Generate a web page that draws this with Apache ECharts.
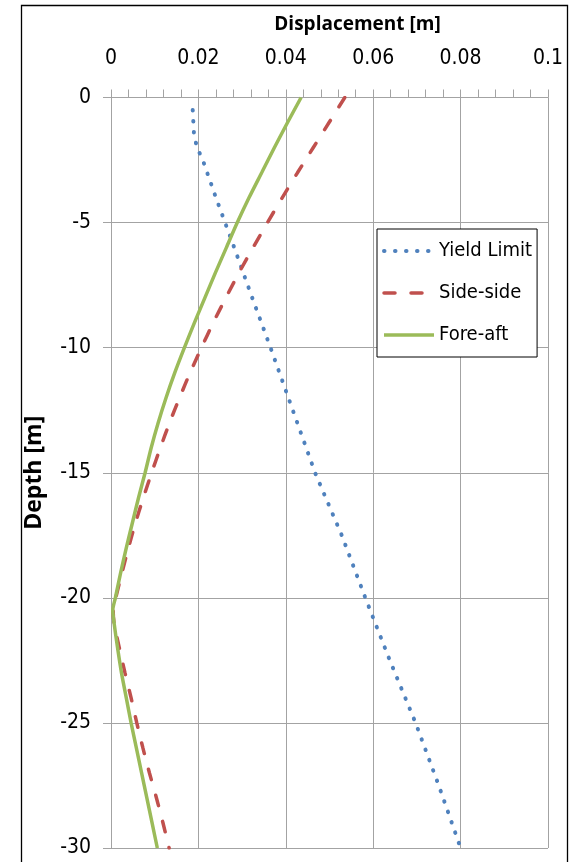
<!DOCTYPE html>
<html>
<head>
<meta charset="utf-8">
<script src="https://cdn.jsdelivr.net/npm/echarts@6/dist/echarts.min.js"></script>
<style>
html,body{margin:0;padding:0;background:#fff;}
#chart{width:571px;height:862px;}
</style>
</head>
<body>
<div id="chart"></div>
<script>
// Data: displacement (m) against depth (m)
var yieldDepth = [-0.5, -1.5, -2, -2.5, -4, -6, -8, -10, -12.5, -15, -17.5, -20, -22.5, -25, -27.5, -30];
var yieldDisp  = [0.0187, 0.0190, 0.0197, 0.0210, 0.0240, 0.0282, 0.0323, 0.0365, 0.0416, 0.0467, 0.0528, 0.0582, 0.0638, 0.0697, 0.0750, 0.0800];

var sideDepth = [0, -1, -2, -3, -4, -5, -6, -7, -8, -9, -10, -11, -12, -13, -14, -15, -16, -17, -18, -19, -20, -20.5, -21, -22, -23, -24, -25, -26, -27, -28, -29, -30];
var sideDisp  = [0.0535, 0.0499, 0.0463, 0.0427, 0.0392, 0.0358, 0.0325, 0.0293, 0.0263, 0.0234, 0.0207, 0.0181, 0.0157, 0.0134, 0.0113, 0.0093, 0.0074, 0.0056, 0.0040, 0.0025, 0.0011, 0.0005, 0.0007, 0.0019, 0.0032, 0.0046, 0.0059, 0.0073, 0.0088, 0.0104, 0.0119, 0.0133];

var foreDepth = [0, -1, -2, -3, -4, -5, -6, -7, -8, -9, -10, -11, -12, -13, -14, -15, -16, -17, -18, -19, -20, -20.5, -21, -22, -23, -24, -25, -26, -27, -28, -29, -30];
var foreDisp  = [0.0435, 0.0404, 0.0374, 0.0345, 0.0316, 0.0289, 0.0264, 0.0239, 0.0215, 0.0191, 0.0168, 0.0146, 0.0126, 0.0108, 0.0092, 0.0078, 0.0063, 0.0049, 0.0035, 0.0022, 0.0010, 0.0004, 0.0007, 0.0015, 0.0024, 0.0035, 0.0046, 0.0058, 0.0070, 0.0082, 0.0094, 0.0106];

var seriesNames = ['Yield Limit', 'Side-side', 'Fore-aft'];

function pairs(xs, ys){ return xs.map(function(x,i){ return [x, ys[i]]; }); }

var TITLE_FONT = 'Open Sans';
var LABEL_FONT = "'DejaVu Sans Condensed', 'Open Sans'";
var GRID = '#a3a3a3';

var chart = echarts.init(document.getElementById('chart'), null, {renderer:'canvas'});
chart.setOption({
  animation: false,
  backgroundColor: '#fff',
  graphic: [{
    type: 'rect', left: 19, top: 3, z: -10,
    shape: {width: 546, height: 900},
    style: {fill: 'none', stroke: '#000', lineWidth: 1.3}
  }],
  grid: {left: 111, top: 97.5, right: 23, bottom: 14, containLabel: false},
  legend: {
    orient: 'vertical',
    left: 377, top: 229,
    data: seriesNames,
    itemWidth: 50, itemHeight: 20, itemGap: 22,
    padding: [12, 5, 12, 5],
    backgroundColor: '#fff',
    borderColor: '#000', borderWidth: 1,
    itemStyle: {opacity: 0},
    lineStyle: {width: 'inherit'},
    textStyle: {fontFamily: LABEL_FONT, fontSize: 20, color: '#000', lineHeight: 20}
  },
  xAxis: {
    type: 'value', position: 'top',
    min: 0, max: 0.1, interval: 0.02,
    name: 'Displacement [m]', nameLocation: 'middle', nameGap: 63,
    nameTextStyle: {fontFamily: TITLE_FONT, fontSize: 19, fontWeight: 'bold', color: '#000', padding: [0, 0, 0, 56]},
    axisLine: {show: true, lineStyle: {color: GRID, width: 1}},
    axisTick: {show: true, inside: false, length: 8, lineStyle: {color: GRID}},
    minorTick: {show: true, splitNumber: 5, length: 8, lineStyle: {color: GRID}},
    splitLine: {show: true, lineStyle: {color: GRID, width: 1}},
    axisLabel: {fontFamily: LABEL_FONT, fontSize: 21, color: '#000', margin: 28,
      formatter: function(v){ return String(+v.toFixed(2)); }}
  },
  yAxis: {
    type: 'value',
    min: -30, max: 0, interval: 5,
    name: 'Depth [m]', nameLocation: 'middle', nameGap: 65, nameRotate: 90,
    nameTextStyle: {fontFamily: TITLE_FONT, fontSize: 23, fontWeight: 'bold', color: '#000'},
    axisLine: {show: true, lineStyle: {color: GRID, width: 1}},
    axisTick: {show: true, inside: false, length: 8, lineStyle: {color: GRID}},
    splitLine: {show: true, lineStyle: {color: GRID, width: 1}},
    axisLabel: {fontFamily: LABEL_FONT, fontSize: 21, color: '#000', margin: 20}
  },
  series: [
    {
      name: seriesNames[0], type: 'line', showSymbol: false, symbol: 'none',
      data: pairs(yieldDisp, yieldDepth),
      color: '#4F81BD',
      lineStyle: {color: '#4F81BD', width: 4, type: [0.5, 10.5], cap: 'round'}
    },
    {
      name: seriesNames[1], type: 'line', showSymbol: false, symbol: 'none',
      data: pairs(sideDisp, sideDepth), smooth: 0.25,
      color: '#C0504D',
      lineStyle: {color: '#C0504D', width: 3.5, type: [11, 16], cap: 'round'}
    },
    {
      name: seriesNames[2], type: 'line', showSymbol: false, symbol: 'none',
      data: pairs(foreDisp, foreDepth), smooth: 0.25,
      color: '#9BBB59',
      lineStyle: {color: '#9BBB59', width: 3.5}
    }
  ]
});
</script>
</body>
</html>
